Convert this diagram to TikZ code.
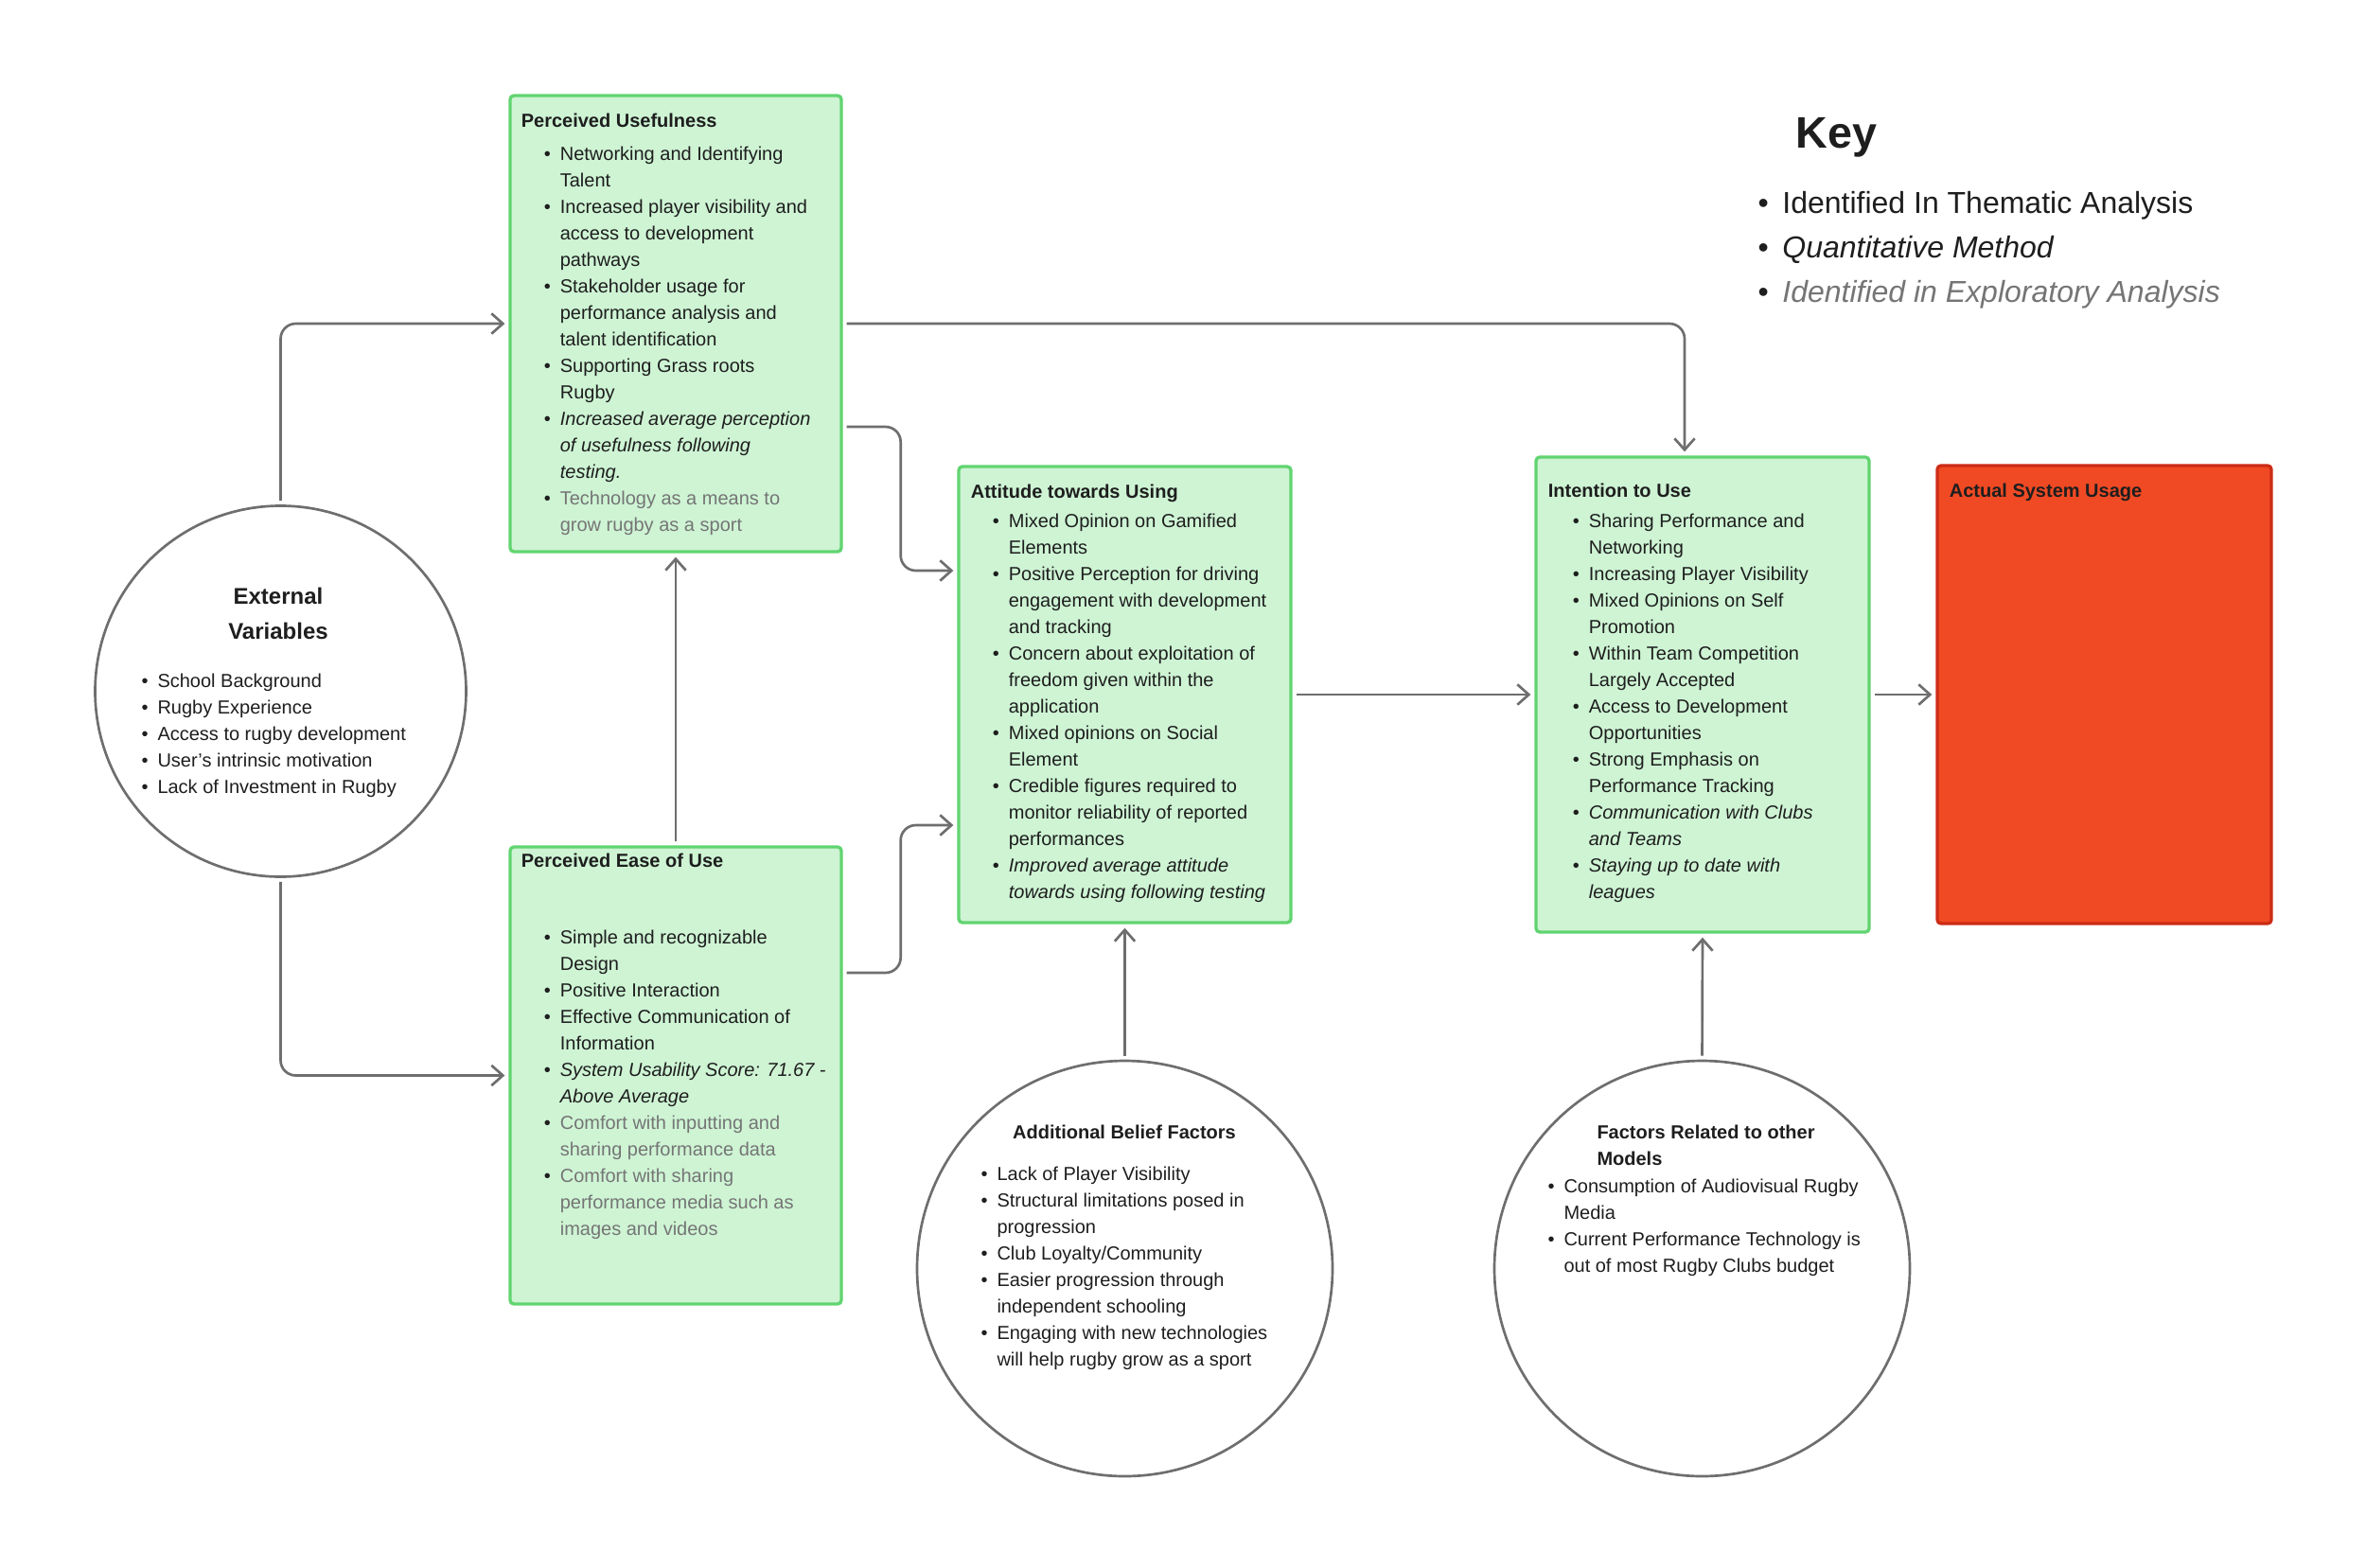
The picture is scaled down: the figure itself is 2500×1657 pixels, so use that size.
\documentclass[tikz,border=0pt]{standalone}
\usepackage{fontspec}
\setmainfont{Liberation Sans}
\usetikzlibrary{arrows.meta,calc,positioning}

\definecolor{boxgreen}{RGB}{206,244,212}
\definecolor{edgegreen}{RGB}{97,212,112}
\definecolor{boxred}{RGB}{240,74,36}
\definecolor{edgered}{RGB}{204,44,22}
\definecolor{ink}{RGB}{30,30,30}
\definecolor{faded}{RGB}{117,117,117}
\definecolor{linegrey}{RGB}{110,110,110}

\newcommand{\bp}{\textbullet}
\newcommand{\pointlist}[1]{\begin{tabular}[t]{@{}l@{\hspace{7.5pt}}l@{}}#1\end{tabular}}
\newcommand{\keylist}[1]{\begin{tabular}[t]{@{}l@{\hspace{11pt}}l@{}}#1\end{tabular}}
\newcommand{\gr}[1]{\textcolor{faded}{#1}}

\tikzset{every picture/.style={line width=0.75pt}}
\tikzset{
  greenbox/.style={draw=edgegreen, fill=boxgreen, line width=2.5pt, rounded corners=3pt, inner sep=0pt},
  redbox/.style={draw=edgered, fill=boxred, line width=2.5pt, rounded corners=3pt, inner sep=0pt},
  factor/.style={circle, draw=linegrey, line width=2pt, inner sep=0pt},
  conn/.style={draw=linegrey, line width=2pt, rounded corners=12pt, -{Straight Barb[length=9pt,width=16pt]}, shorten <=3pt, shorten >=3pt},
  txt/.style={anchor=base west, inner sep=0pt, text=ink, font=\fontsize{15}{21}\selectfont},
  head/.style={txt, font=\fontsize{15}{21}\selectfont\bfseries},
}

\begin{document}
\begin{tikzpicture}[x=0.75pt,y=0.75pt,yscale=-1,xscale=1]
%set diagram size
\path[fill=white, use as bounding box] (0,0) rectangle (2500,1657);

%Perceived Usefulness
\node[greenbox, minimum width=262.5pt, minimum height=361.5pt] (pu) at (714,342) {};
\node[head] (putitle) at ($(pu.north west)+(13,35)$) {Perceived Usefulness};
\node[txt] (pulist) at ($(pu.north west)+(37,70)$) {\pointlist{%
\bp & Networking and Identifying\\
 & Talent\\
\bp & Increased player visibility and\\
 & access to development\\
 & pathways\\
\bp & Stakeholder usage for\\
 & performance analysis and\\
 & talent identification\\
\bp & Supporting Grass roots\\
 & Rugby\\
\bp & \textit{Increased average perception}\\
 & \textit{of usefulness following}\\
 & \textit{testing.}\\
\bp & \gr{Technology as a means to}\\
 & \gr{grow rugby as a sport}}};

%Perceived Ease of Use
\node[greenbox, minimum width=262.5pt, minimum height=362.25pt] (peou) at (714,1136.5) {};
\node[head] (peoutitle) at ($(peou.north west)+(13,23)$) {Perceived Ease of Use};
\node[txt] (peoulist) at ($(peou.north west)+(37,104)$) {\pointlist{%
\bp & Simple and recognizable\\
 & Design\\
\bp & Positive Interaction\\
\bp & Effective Communication of\\
 & Information\\
\bp & \textit{System Usability Score: 71.67 -}\\
 & \textit{Above Average}\\
\bp & \gr{Comfort with inputting and}\\
 & \gr{sharing performance data}\\
\bp & \gr{Comfort with sharing}\\
 & \gr{performance media such as}\\
 & \gr{images and videos}}};

%Attitude towards Using
\node[greenbox, minimum width=263.25pt, minimum height=361.5pt] (att) at (1188.5,734) {};
\node[head] (atttitle) at ($(att.north west)+(14,35)$) {Attitude towards Using};
\node[txt] (attlist) at ($(att.north west)+(37,66)$) {\pointlist{%
\bp & Mixed Opinion on Gamified\\
 & Elements\\
\bp & Positive Perception for driving\\
 & engagement with development\\
 & and tracking\\
\bp & Concern about exploitation of\\
 & freedom given within the\\
 & application\\
\bp & Mixed opinions on Social\\
 & Element\\
\bp & Credible figures required to\\
 & monitor reliability of reported\\
 & performances\\
\bp & \textit{Improved average attitude}\\
 & \textit{towards using following testing}}};

%Intention to Use
\node[greenbox, minimum width=264pt, minimum height=376.5pt] (int) at (1799,734) {};
\node[head] (inttitle) at ($(int.north west)+(14,44)$) {Intention to Use};
\node[txt] (intlist) at ($(int.north west)+(40,76)$) {\pointlist{%
\bp & Sharing Performance and\\
 & Networking\\
\bp & Increasing Player Visibility\\
\bp & Mixed Opinions on Self\\
 & Promotion\\
\bp & Within Team Competition\\
 & Largely Accepted\\
\bp & Access to Development\\
 & Opportunities\\
\bp & Strong Emphasis on\\
 & Performance Tracking\\
\bp & \textit{Communication with Clubs}\\
 & \textit{and Teams}\\
\bp & \textit{Staying up to date with}\\
 & \textit{leagues}}};

%Actual System Usage
\node[redbox, minimum width=264.75pt, minimum height=363pt] (act) at (2223.5,734) {};
\node[head] (acttitle) at ($(act.north west)+(14,35)$) {Actual System Usage};

%External Variables
\node[factor, minimum size=294pt] (ext) at (296.5,730.5) {};
\node[head, anchor=base, font=\fontsize{18}{27.75}\selectfont\bfseries] (exttitle) at (294,638) {\begin{tabular}[t]{@{}c@{}}External\\Variables\end{tabular}};
\node[txt] (extlist) at (149,726) {\pointlist{%
\bp & School Background\\
\bp & Rugby Experience\\
\bp & Access to rugby development\\
\bp & User’s intrinsic motivation\\
\bp & Lack of Investment in Rugby}};

%Additional Belief Factors
\node[factor, minimum size=329.25pt] (abf) at (1188.5,1340.5) {};
\node[head, anchor=base] (abftitle) at (1188,1203) {Additional Belief Factors};
\node[txt] (abflist) at (1036,1247) {\pointlist{%
\bp & Lack of Player Visibility\\
\bp & Structural limitations posed in\\
 & progression\\
\bp & Club Loyalty/Community\\
\bp & Easier progression through\\
 & independent schooling\\
\bp & Engaging with new technologies\\
 & will help rugby grow as a sport}};

%Factors Related to other Models
\node[factor, minimum size=329.25pt] (frm) at (1798.5,1340.5) {};
\node[head] (frmtitle) at (1687,1203) {\begin{tabular}[t]{@{}l@{}}Factors Related to other\\Models\end{tabular}};
\node[txt] (frmlist) at (1635,1260) {\pointlist{%
\bp & Consumption of Audiovisual Rugby\\
 & Media\\
\bp & Current Performance Technology is\\
 & out of most Rugby Clubs budget}};

%Key
\node[head, font=\fontsize{35}{42}\selectfont\bfseries] (keytitle) at (1897,156) {Key};
\node[txt, font=\fontsize{24}{35.3}\selectfont] (keylist) at (1857,225) {\keylist{%
\bp & Identified In Thematic Analysis\\
\bp & \textit{Quantitative Method}\\
\bp & \gr{\textit{Identified in Exploratory Analysis}}}};

%Connectors
\draw[conn] (ext.north) |- (pu.west);
\draw[conn] (ext.south) |- (peou.west);
\draw[conn] (peou.north) -- (pu.south);
\draw[conn] (pu.east) -| ($(int.north)+(-19,0)$);
\draw[conn] ($(pu.east)+(0,109)$) -- ++(61,0) |- ($(att.west)+(0,-131)$);
\draw[conn] ($(peou.east)+(0,-108.5)$) -- ++(61,0) |- ($(att.west)+(0,138)$);
\draw[conn] (att.east) -- (int.west);
\draw[conn] (int.east) -- (act.west);
\draw[conn] (abf.north) -- (att.south);
\draw[conn] (frm.north) -- (int.south);

\end{tikzpicture}
\end{document}
